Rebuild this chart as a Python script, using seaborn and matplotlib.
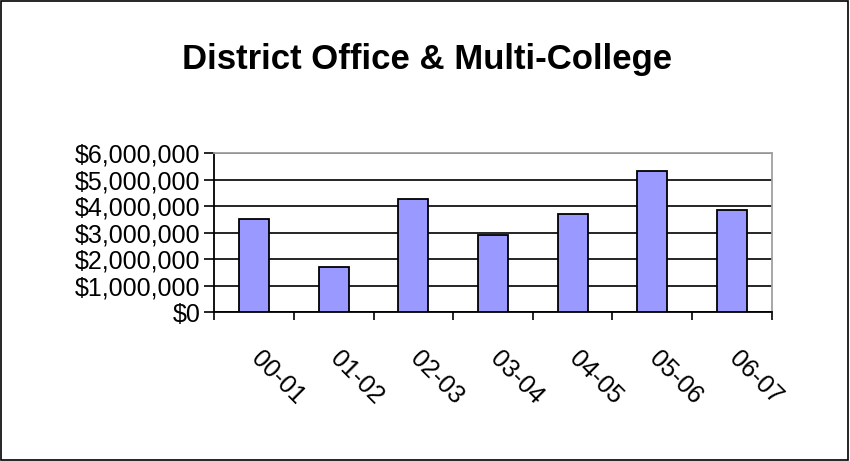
import numpy as np
import pandas as pd
import seaborn as sns
import matplotlib.pyplot as plt
from matplotlib.ticker import FuncFormatter, FixedLocator
from matplotlib.patches import Rectangle
from matplotlib.transforms import ScaledTranslation

years = ["00-01", "01-02", "02-03", "03-04", "04-05", "05-06", "06-07"]
amounts = [3510000, 1710000, 4280000, 2910000, 3700000, 5320000, 3870000]
yticks = [0, 1000000, 2000000, 3000000, 4000000, 5000000, 6000000]

df = pd.DataFrame({"year": years, "amount": amounts})

sns.set_theme(style="white")
plt.rcParams["font.family"] = ["Liberation Sans", "DejaVu Sans"]
plt.rcParams["text.color"] = "black"
plt.rcParams["xtick.color"] = "black"
plt.rcParams["ytick.color"] = "black"

fig = plt.figure(figsize=(8.5, 4.61), dpi=100)
ax = fig.add_axes([0.252, 0.323, 0.656, 0.345])

sns.barplot(data=df, x="year", y="amount", color="#9999FF", width=0.38,
            edgecolor="black", linewidth=1.3, saturation=1, ax=ax, zorder=3)

ax.set_xlim(-0.5, len(years) - 0.5)
ax.set_ylim(0, 6000000)
ax.set_yticks(yticks)
ax.yaxis.set_major_formatter(FuncFormatter(lambda v, p: "${:,.0f}".format(v)))
ax.yaxis.grid(True, color="black", linewidth=1.2, zorder=0)
ax.set_axisbelow(True)

# tick marks sit on category boundaries, labels at centres
ax.xaxis.set_minor_locator(FixedLocator(np.arange(-0.5, len(years), 1.0)))
ax.tick_params(axis="x", which="major", length=0, pad=25, labelsize=18)
ax.tick_params(axis="x", which="minor", length=6, width=1.2, color="black",
               direction="out", bottom=True)
ax.tick_params(axis="y", length=7, width=1.2, color="black", direction="out",
               left=True, labelsize=18, pad=3)
shift = ScaledTranslation(9 / 100, 0, fig.dpi_scale_trans)
for lbl in ax.get_xticklabels():
    lbl.set_rotation(-45)
    lbl.set_ha("left")
    lbl.set_va("top")
    lbl.set_rotation_mode("anchor")
    lbl.set_transform(lbl.get_transform() + shift)

for side in ["left", "bottom"]:
    ax.spines[side].set_color("black")
    ax.spines[side].set_linewidth(1.3)
for side in ["top", "right"]:
    ax.spines[side].set_color("#a0a0a0")
    ax.spines[side].set_linewidth(1.3)

ax.set_xlabel("")
ax.set_ylabel("")

fig.text(0.502, 0.872, "District Office & Multi-College", ha="center", va="center",
         fontsize=25, fontweight="bold", color="black")

fig.patches.append(Rectangle((0.001, 0.002), 0.997, 0.996, transform=fig.transFigure,
                             fill=False, edgecolor="black", linewidth=1.2))

fig.savefig("out.png", dpi=100)
